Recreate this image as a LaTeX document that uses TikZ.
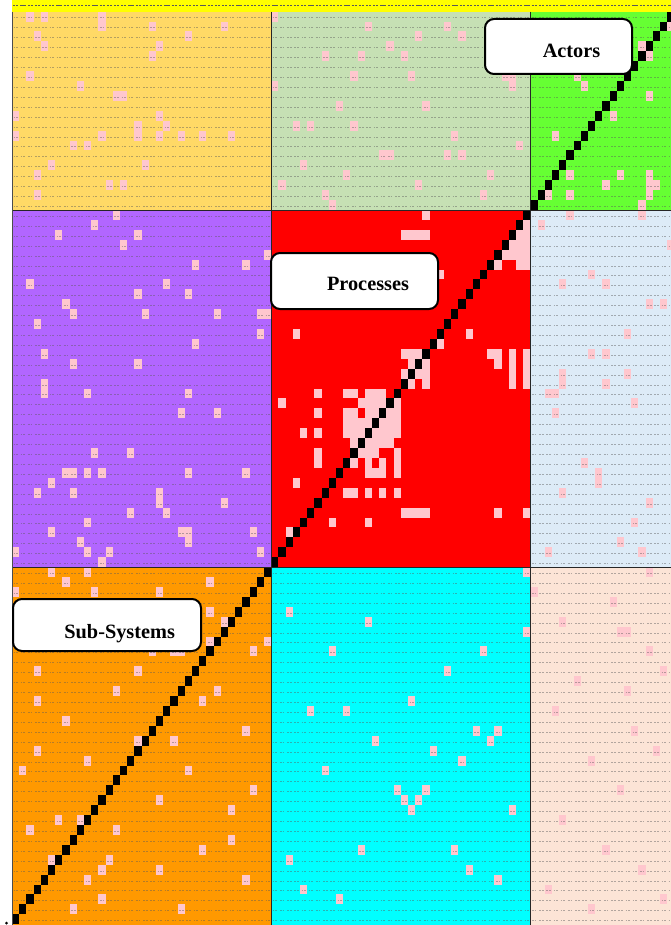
\documentclass[tikz,border=0pt]{standalone}
\usepackage{fontspec}
\setmainfont{Liberation Serif}
\definecolor{cTL}{HTML}{FFD966}
\definecolor{cTM}{HTML}{C6E0B4}
\definecolor{cTR}{HTML}{66FF33}
\definecolor{cML}{HTML}{B266FF}
\definecolor{cMM}{HTML}{FF0000}
\definecolor{cMR}{HTML}{DDEBF7}
\definecolor{cBL}{HTML}{FF9900}
\definecolor{cBM}{HTML}{00FFFF}
\definecolor{cBR}{HTML}{FCE4D6}
\definecolor{pinkc}{HTML}{FFC7CE}
\definecolor{hdr}{HTML}{FFFF00}
\definecolor{dashc}{HTML}{5A5A5A}
\tikzset{
  cellfill/.style={fill=pinkc},
  diagcell/.style={fill=black},
  markline/.style={draw=dashc, draw opacity=0.45, line width=0.6pt, dash pattern=on 1.7pt off 1pt on 1.7pt off 2.8pt, dash phase=5.7pt},
  hdrline/.style={draw=black!65, line width=1.6pt, dash pattern=on 2.2pt off 0.8pt on 2.2pt off 2pt, dash phase=6pt},
  blockline/.style={draw=black!85, line width=0.9pt},
  lbox/.style={draw=black, line width=2pt, fill=white, rounded corners=9pt, inner sep=0pt},
  ltext/.style={font=\fontsize{20.3}{24}\selectfont\bfseries, inner sep=0pt, anchor=base}
}
\begin{document}
\begin{tikzpicture}[x=1pt,y=-1pt]
\useasboundingbox (0,0) rectangle (671,925);
\begin{scope}
\clip (0,0) rectangle (671,925);
% blocks
\fill[cTL] (12,11.6) rectangle (271.2,210);
\fill[cTM] (271.2,11.6) rectangle (530.4,210);
\fill[cTR] (530.4,11.6) rectangle (675,210);
\fill[cML] (12,210) rectangle (271.2,567.1);
\fill[cMM] (271.2,210) rectangle (530.4,567.1);
\fill[cMR] (530.4,210) rectangle (675,567.1);
\fill[cBL] (12,567.1) rectangle (271.2,925);
\fill[cBM] (271.2,567.1) rectangle (530.4,925);
\fill[cBR] (530.4,567.1) rectangle (675,925);
% header band
\fill[hdr] (12,0) rectangle (675,11.6);
\draw[hdrline] (12,5.5) -- (675,5.5);
% pink cells
\foreach \c/\r in {
 2/0,4/0,12/0,12/1,19/1,29/1,3/2,24/2,4/3,20/3,19/4,2/6,9/7,14/8,15/8,0/10,20/10,17/11,21/11,17/12,0/12,12/12,20/12,23/12,26/12,30/12,8/13,10/13,5/15,18/15,3/16,13/17,15/17,3/18,
 36/0,49/1,60/1,56/2,62/2,52/3,43/4,48/4,54/4,47/6,55/6,68/6,69/6,69/7,36/7,45/9,57/9,39/11,41/11,47/11,61/12,70/13,51/14,52/14,60/14,62/14,40/15,46/16,66/16,37/17,56/17,43/18,65/18,44/19,
 91/1,87/3,88/4,78/6,79/7,88/8,83/10,75/12,77/16,84/16,88/16,82/17,88/17,89/17,74/18,77/18,88/18,87/19,
 14/20,11/21,6/22,17/22,15/23,35/24,25/25,32/25,2/27,21/27,17/28,24/28,7/29,8/30,18/30,28/30,34/30,35/30,3/31,34/32,25/33,4/34,8/35,17/35,4/37,4/38,10/38,24/38,23/40,28/40,11/44,16/44,7/46,8/46,10/46,12/46,24/46,32/46,5/47,3/48,8/48,20/48,20/49,29/49,16/50,21/50,10/51,5/52,23/52,24/52,33/52,24/53,9/53,0/54,10/54,13/54,34/54,12/55,
 77/20,87/20,73/21,91/23,80/26,76/27,82/27,88/29,90/29,85/32,80/34,82/34,76/36,76/37,85/36,82/37,74/38,75/38,86/39,75/40,79/45,81/46,81/47,76/48,88/49,86/51,84/53,74/54,87/54,
 57/20,54/22,55/22,56/22,57/22,59/26,39/32,63/32,59/33,54/34,55/34,56/34,66/34,67/34,69/34,71/34,55/35,57/35,67/35,69/35,71/35,54/36,56/36,57/36,69/36,71/36,55/37,57/37,69/37,71/37,
 71/21,70/22,71/22,69/23,70/23,71/23,68/24,69/24,70/24,71/24,67/25,70/25,71/25,
 42/38,46/38,47/38,49/38,50/38,51/38,37/39,48/39,49/39,50/39,51/39,53/39,42/40,46/40,47/40,49/40,50/40,52/40,53/40,46/41,47/41,48/41,49/41,51/41,52/41,53/41,40/42,42/42,46/42,47/42,48/42,50/42,51/42,52/42,53/42,47/43,49/43,50/43,51/43,52/43,48/44,49/44,50/44,53/44,42/44,42/45,47/45,49/45,51/45,53/45,49/46,50/46,51/46,53/46,39/47,46/48,47/48,49/48,51/48,53/48,54/50,55/50,56/50,57/50,67/50,71/50,44/51,49/51,38/52,
 5/56,10/56,7/57,27/57,0/58,11/58,20/58,27/60,29/61,27/63,35/63,33/64,19/64,22/64,23/64,3/66,17/66,6/81,9/81,2/82,14/82,5/85,13/85,12/86,10/87,12/89,8/90,
 3/69,14/68,17/73,3/74,1/76,10/75,13/78,22/73,26/69,28/68,32/72,33/78,30/80,20/79,24/76,26/84,32/87,23/90,30/83,20/86,7/71,
 71/56,88/56,72/58,83/59,76/61,71/62,84/62,85/62,88/64,
 38/60,44/64,49/61,41/70,46/70,50/73,43/76,55/69,60/66,64/72,66/73,67/72,62/75,58/74,53/78,54/79,55/80,56/79,57/78,38/85,40/88,61/84,63/86,67/87,45/89,48/84,69/80,65/64,
 78/67,90/66,75/70,86/72,80/75,89/74,84/78,76/81,82/84,87/86,74/88,90/89,80/90,85/68}
 \fill[cellfill] ({12+7.2*\c},{11.6+9.92*\r}) rectangle ++(7.2,9.92);
% cell marks
\foreach \r in {0,...,91}{
  \draw[markline] (12,{17.8+9.92*\r}) -- (271.2,{17.8+9.92*\r});
  \draw[markline] (530.4,{17.8+9.92*\r}) -- (675,{17.8+9.92*\r});
}
\foreach \r in {0,...,19,56,57,...,91}{
  \draw[markline] (271.2,{17.8+9.92*\r}) -- (530.4,{17.8+9.92*\r});
}
% diagonal
\foreach \r in {0,...,91}
 \fill[diagcell] ({12+7.2*(91-\r)},{11.6+9.92*\r}) rectangle ++(7.2,9.92);
% block borders
\draw[blockline] (271.2,11.6) -- (271.2,925);
\draw[blockline] (530.4,11.6) -- (530.4,925);
\draw[blockline] (12,210) -- (675,210);
\draw[blockline] (12,567.1) -- (675,567.1);
\draw[draw=black!70, line width=1.4pt] (12.5,11.6) -- (12.5,925);
\end{scope}
\fill[black] (6.5,923) circle (1.5);
% labels
\node[lbox, minimum width=147pt, minimum height=55pt] (actorsbox) at (558.5,46.5) {};
\node[ltext] (actors) at (571.5,57.5) {Actors};
\node[lbox, minimum width=167pt, minimum height=56pt] (processesbox) at (354.5,281) {};
\node[ltext] (processes) at (368,290) {Processes};
\node[lbox, minimum width=188pt, minimum height=52pt] (subsysbox) at (107,625) {};
\node[ltext] (subsys) at (119.7,638.3) {Sub-Systems};
\end{tikzpicture}
\end{document}
